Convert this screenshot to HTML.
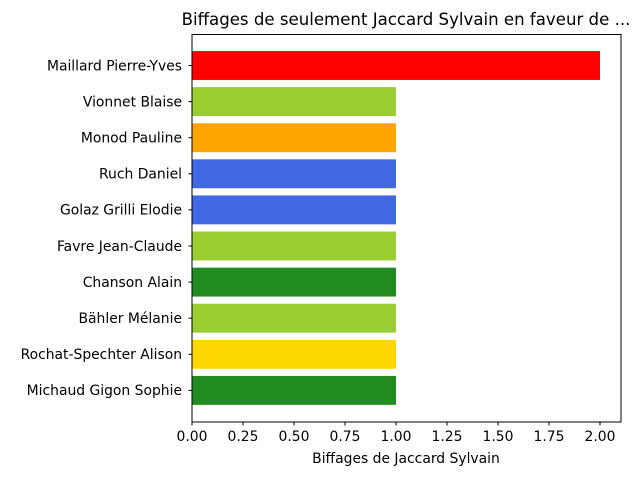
<!DOCTYPE html>
<html><head><meta charset="utf-8"><style>
body{margin:0;background:#fff}
svg text{font-family:"DejaVu Sans","Liberation Sans",sans-serif;fill:#000}
</style></head><body>
<svg width="640" height="480" viewBox="0 0 640 480" id="c">
<text x="406" y="25" font-size="16.6" text-anchor="middle">Biffages de seulement Jaccard Sylvain en faveur de ...</text>
<text x="406" y="463" font-size="13.9" text-anchor="middle">Biffages de Jaccard Sylvain</text>
<g id="bars"></g><g id="ticks"></g>
<rect x="192" y="34.5" width="429" height="387.5" fill="none" stroke="#000" stroke-width="1"/>
</svg>
<script>
const categories=["Maillard Pierre-Yves","Vionnet Blaise","Monod Pauline","Ruch Daniel","Golaz Grilli Elodie","Favre Jean-Claude","Chanson Alain","Bähler Mélanie","Rochat-Spechter Alison","Michaud Gigon Sophie"];
const values=[2,1,1,1,1,1,1,1,1,1];
const colors=["#ff0000","#9acd32","#ffa500","#4169e1","#4169e1","#9acd32","#228b22","#9acd32","#ffd700","#228b22"];
const xTicks=[0,0.25,0.5,0.75,1,1.25,1.5,1.75,2];
const xTickLabels=["0.00","0.25","0.50","0.75","1.00","1.25","1.50","1.75","2.00"];
const NS="http://www.w3.org/2000/svg";
const x=v=>192+v*204;
const y=i=>65.5+i*36.1;
const bars=document.getElementById('bars'),ticks=document.getElementById('ticks');
categories.forEach((c,i)=>{
 const r=document.createElementNS(NS,'rect');
 r.setAttribute('x',x(0));r.setAttribute('y',y(i)-14.45);
 r.setAttribute('width',x(values[i])-x(0));r.setAttribute('height',28.9);
 r.setAttribute('fill',colors[i]);
 
 
 bars.appendChild(r);
 const l=document.createElementNS(NS,'line');
 l.setAttribute('x1',188.5);l.setAttribute('x2',192);l.setAttribute('y1',y(i));l.setAttribute('y2',y(i));l.setAttribute('stroke','#000');
 
 
 ticks.appendChild(l);
 const t=document.createElementNS(NS,'text');
 t.setAttribute('x',182);t.setAttribute('y',y(i)+4.8);t.setAttribute('font-size','13.9');t.setAttribute('text-anchor','end');
 t.textContent=c;
 
 
 ticks.appendChild(t);
});
xTicks.forEach((v,i)=>{
 const l=document.createElementNS(NS,'line');
 l.setAttribute('x1',x(v));l.setAttribute('x2',x(v));l.setAttribute('y1',422);l.setAttribute('y2',425.5);l.setAttribute('stroke','#000');
 
 
 ticks.appendChild(l);
 const t=document.createElementNS(NS,'text');
 t.setAttribute('x',x(v));t.setAttribute('y',441);t.setAttribute('font-size','13.9');t.setAttribute('text-anchor','middle');
 t.textContent=xTickLabels[i];
 
 
 ticks.appendChild(t);
});
</script>
</body></html>
